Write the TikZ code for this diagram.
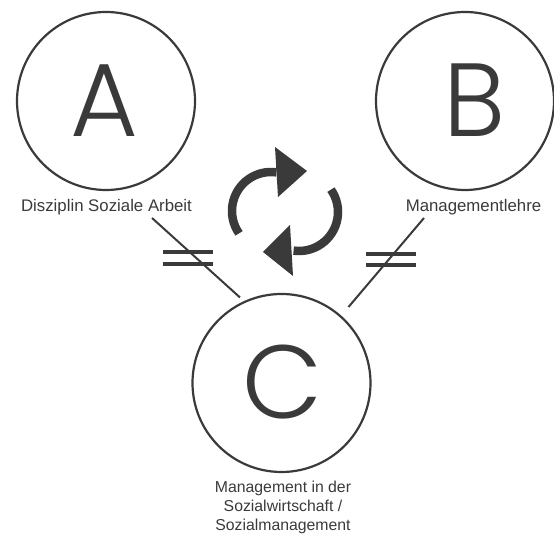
\documentclass[tikz,border=0pt]{standalone}
\usepackage{fontspec}
\setmainfont{Liberation Sans}
\newfontfamily\letterfont{Poppins}[UprightFont=* Light]
\definecolor{ink}{HTML}{3A3A3A}

\begin{document}
\begin{tikzpicture}[x=1pt,y=1pt,
    ring/.style={circle, draw=ink, line width=2.2pt, minimum size=178pt, inner sep=0pt},
    bigletter/.style={font=\letterfont\fontsize{104}{104}\selectfont, text=ink, inner sep=0pt},
    lbl/.style={font=\fontsize{16.8}{19.5}\selectfont, text=ink, inner sep=0pt},
    link/.style={draw=ink, line width=2pt},
    bar/.style={draw=ink, line width=4pt},
    turn/.style={draw=ink, line width=8.5pt},
    head/.style={fill=ink}]
  \useasboundingbox (0,0) rectangle (554,535);

  % the three circles
  \node[ring] (circA) at (106,434) {};
  \node[ring] (circB) at (465,434) {};
  \node[ring] (circC) at (281.5,152) {};
  \node[bigletter] (letA) at (104,434) {A};
  \node[bigletter] (letB) at (475,435) {B};
  \node[bigletter] (letC) at (282.5,152.5) {C};

  % labels
  \node[lbl, anchor=base] (labA) at (106.5,323) {Disziplin Soziale Arbeit};
  \node[lbl, anchor=base] (labB) at (473.5,323.3) {Managementlehre};
  \node[lbl, anchor=north, align=center, font=\fontsize{15.8}{18.8}\selectfont]
    (labC) at (283,54) {Management in der\\Sozialwirtschaft /\\Sozialmanagement};

  % lines to C, with the "not equal" bars
  \coordinate (linkA) at (152,317);
  \coordinate (endA) at (240,237.5);
  \coordinate (linkB) at (424,317);
  \coordinate (endB) at (348.5,228);
  \draw[link] (linkA) -- (endA);
  \draw[link] (linkB) -- (endB);
  \foreach \y in {283,271.3} {
    \draw[bar] (163,\y) -- (212.7,\y);
  }
  \foreach \y in {281,270} {
    \draw[bar] (366,\y) -- (415.7,\y);
  }

  % cycle arrows
  \draw[turn] (271,324) ++(215:39) arc[start angle=215, end angle=82, radius=39];
  \fill[head] (275,388) -- (307,364) -- (278,338) -- cycle;
  \draw[turn] (299,323) ++(35:39) arc[start angle=35, end angle=-98, radius=39];
  \fill[head] (290,310) -- (263,283) -- (293,259) -- cycle;
\end{tikzpicture}
\end{document}
